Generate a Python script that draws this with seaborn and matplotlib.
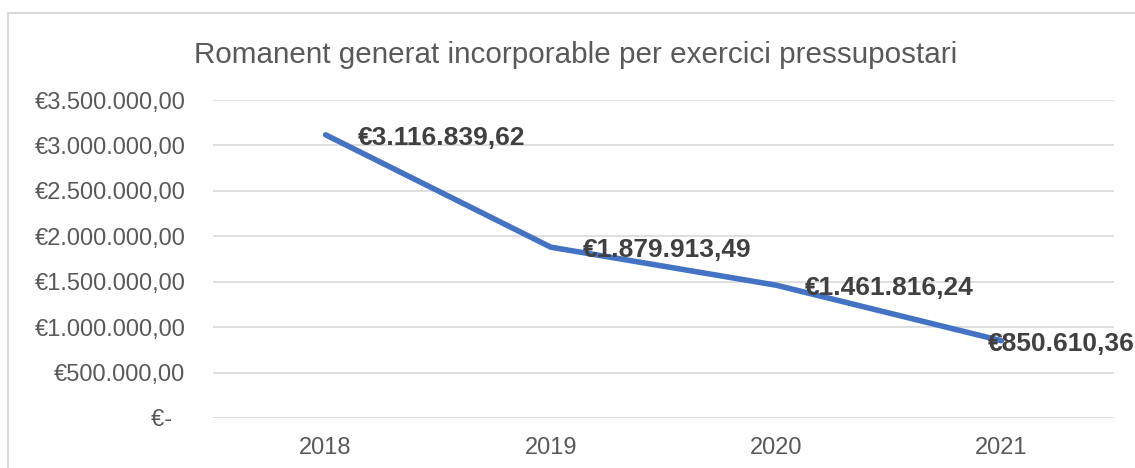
import matplotlib
matplotlib.use("Agg")
import matplotlib.pyplot as plt
import seaborn as sns
import pandas as pd
from matplotlib.lines import Line2D
from matplotlib.ticker import FuncFormatter, MultipleLocator

years = ["2018", "2019", "2020", "2021"]
values = [3116839.62, 1879913.49, 1461816.24, 850610.36]
title = "Romanent generat incorporable per exercici pressupostari"

def eur(v, pos=None):
    if abs(v) < 0.005:
        return "€-  "
    s = f"{v:,.2f}"
    s = s.replace(",", "X").replace(".", ",").replace("X", ".")
    return "€" + s

sns.set_theme(style="white")
plt.rcParams["font.family"] = ["Liberation Sans", "DejaVu Sans"]

W, H = 1135, 468
fig = plt.figure(figsize=(W / 100, H / 100), dpi=100)
ax = fig.add_axes([213 / W, 1 - 418 / H, (1114 - 213) / W, (418 - 100) / H])

df = pd.DataFrame({"pos": range(len(years)), "value": values})
sns.lineplot(data=df, x="pos", y="value", ax=ax, color="#4472C4",
             linewidth=4.0, sort=False, solid_capstyle="round",
             solid_joinstyle="round", zorder=3)

ax.set_xlim(-0.5, len(years) - 0.5)
ax.set_ylim(0, 3500000)
ax.yaxis.set_major_locator(MultipleLocator(500000))
ax.yaxis.set_major_formatter(FuncFormatter(eur))
ax.set_xticks(range(len(years)))
ax.set_xticklabels(years)
ax.set_xlabel("")
ax.set_ylabel("")
ax.grid(axis="y", color="#D9D9D9", linewidth=1.2)
ax.grid(axis="x", visible=False)
ax.set_axisbelow(True)
for sp in ax.spines.values():
    sp.set_visible(False)
ax.tick_params(axis="y", length=0, pad=20, labelsize=17, labelcolor="#595959")
ax.tick_params(axis="x", length=0, pad=13.5, labelsize=17, labelcolor="#595959")

label_dx = [32, 32, 29, -13]
for i, v in enumerate(values):
    ax.annotate(eur(v), (i, v), xytext=(label_dx[i], -3), textcoords="offset pixels",
                ha="left", va="center", fontsize=19, fontweight="bold",
                color="#404040", zorder=5, annotation_clip=False)

fig.text(576 / W, 1 - 55 / H, title, ha="center", va="center",
         fontsize=21.3, color="#595959")

# chart border
fig.add_artist(Line2D([8 / W, 8 / W], [0, 1 - 13 / H], transform=fig.transFigure,
                      color="#D9D9D9", linewidth=1.5))
fig.add_artist(Line2D([8 / W, 1], [1 - 13 / H, 1 - 13 / H], transform=fig.transFigure,
                      color="#D9D9D9", linewidth=1.5))

fig.savefig("out.png", dpi=100, facecolor="white")
